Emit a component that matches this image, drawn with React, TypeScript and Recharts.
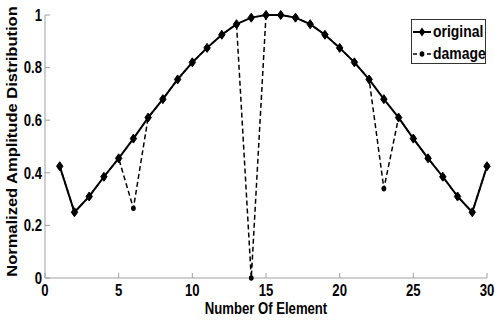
import React from 'react';
import { LineChart, Line, XAxis, YAxis, Legend, Label } from 'recharts';

const elements = [1, 2, 3, 4, 5, 6, 7, 8, 9, 10, 11, 12, 13, 14, 15, 16, 17, 18, 19, 20, 21, 22, 23, 24, 25, 26, 27, 28, 29, 30];
const originalValues = [0.425, 0.25, 0.31, 0.385, 0.455, 0.53, 0.61, 0.68, 0.755, 0.82, 0.875, 0.925, 0.965, 0.99, 1.0, 1.0, 0.99, 0.965, 0.925, 0.875, 0.82, 0.755, 0.68, 0.61, 0.53, 0.455, 0.385, 0.31, 0.25, 0.425];
const damageValues = [0.425, 0.25, 0.31, 0.385, 0.455, 0.265, 0.61, 0.68, 0.755, 0.82, 0.875, 0.925, 0.965, 0, 1.0, 1.0, 0.99, 0.965, 0.925, 0.875, 0.82, 0.755, 0.34, 0.61, 0.53, 0.455, 0.385, 0.31, 0.25, 0.425];
const xTicks = [0, 5, 10, 15, 20, 25, 30];
const yTicks = [0, 0.2, 0.4, 0.6, 0.8, 1];
const seriesNames = ['original', 'damage'];
const xLabel = 'Number Of Element';
const yLabel = 'Normalized Amplitude Distribution';

const data = elements.map((e, i) => ({ element: e, original: originalValues[i], damage: damageValues[i] }));

const FONT = '"Liberation Sans", Arial, sans-serif';
const SQUEEZE = 0.82;
const AXIS_GRAY = '#a0a0a0';
const TICK_LEN = 5;

const SqText = (props: any) => {
  const { x, y, children, anchor, dy, size } = props;
  return (
    <text
      transform={`translate(${x},${y}) scale(${SQUEEZE},1)`}
      x={0}
      y={0}
      dy={dy}
      textAnchor={anchor}
      fontFamily={FONT}
      fontWeight="bold"
      fontSize={size}
      fill="#000"
    >
      {children}
    </text>
  );
};

const BottomTick = (props: any) => {
  const { x, y, payload } = props;
  const axisY = y - 6;
  return (
    <g>
      <line x1={x} y1={axisY} x2={x} y2={axisY - TICK_LEN} stroke={AXIS_GRAY} strokeWidth={1} />
      <SqText x={x} y={y} dy="0.78em" anchor="middle" size={16}>
        {payload.value}
      </SqText>
    </g>
  );
};

const LeftTick = (props: any) => {
  const { x, y, payload } = props;
  const axisX = x + 3;
  return (
    <g>
      <line x1={axisX} y1={y} x2={axisX + TICK_LEN} y2={y} stroke={AXIS_GRAY} strokeWidth={1} />
      <SqText x={x} y={y} dy="0.36em" anchor="end" size={16}>
        {payload.value}
      </SqText>
    </g>
  );
};

const TopTick = (props: any) => {
  const { x, y } = props;
  return <line x1={x} y1={y} x2={x} y2={y + TICK_LEN} stroke={AXIS_GRAY} strokeWidth={1} />;
};

const RightTick = (props: any) => {
  const { x, y } = props;
  return <line x1={x} y1={y} x2={x - TICK_LEN} y2={y} stroke={AXIS_GRAY} strokeWidth={1} />;
};

const Diamond = (props: any) => {
  const { cx, cy, index } = props;
  if (cx == null || cy == null) return <g key={`d-${index}`} />;
  return (
    <path
      key={`d-${index}`}
      d={`M${cx},${cy - 4.5} L${cx + 3.2},${cy} L${cx},${cy + 4.5} L${cx - 3.2},${cy} Z`}
      fill="#000"
      stroke="#000"
      strokeWidth={1}
    />
  );
};

const SmallDot = (props: any) => {
  const { cx, cy, index } = props;
  if (cx == null || cy == null) return <g key={`s-${index}`} />;
  return <ellipse key={`s-${index}`} cx={cx} cy={cy} rx={2.4} ry={2.8} fill="#000" />;
};

const LegendBox = () => (
  <div
    style={{
      width: 75,
      height: 45,
      border: '1px solid #333',
      background: '#fff',
      boxSizing: 'border-box',
      position: 'relative',
    }}
  >
    {seriesNames.map((name, i) => (
      <div key={name} style={{ position: 'absolute', left: 0, top: 2 + i * 22, height: 20, width: 73, display: 'flex', alignItems: 'center' }}>
        <svg width={21} height={20} style={{ flex: 'none' }}>
          {i === 0 ? (
            <>
              <line x1={1} y1={10} x2={19} y2={10} stroke="#000" strokeWidth={2} />
              <path d="M10,5.5 L13.2,10 L10,14.5 L6.8,10 Z" fill="#000" />
            </>
          ) : (
            <>
              <line x1={1} y1={10} x2={19} y2={10} stroke="#000" strokeWidth={1.5} strokeDasharray="4 3" />
              <ellipse cx={10} cy={10} rx={2.4} ry={2.8} fill="#000" />
            </>
          )}
        </svg>
        <span
          style={{
            fontFamily: FONT,
            fontWeight: 'bold',
            fontSize: 17,
            lineHeight: '20px',
            color: '#000',
            display: 'inline-block',
            transform: `scaleX(${SQUEEZE})`,
            transformOrigin: 'left center',
            whiteSpace: 'nowrap',
          }}
        >
          {name}
        </span>
      </div>
    ))}
  </div>
);

export default function App() {
  return (
    <div style={{ position: 'absolute', left: 0, top: 0, width: 495, height: 320, background: '#fff' }}>
      <LineChart width={495} height={320} data={data} margin={{ top: 15, right: 8, bottom: 0, left: 0 }}>
        <XAxis
          xAxisId="bottom"
          dataKey="element"
          type="number"
          domain={[0, 30]}
          ticks={xTicks}
          height={42}
          stroke={AXIS_GRAY}
          tickLine={false}
          tickSize={0}
          tickMargin={6}
          tick={<BottomTick />}
          interval={0}
        >
          <Label
            content={(p: any) => {
              const vb = p.viewBox;
              const cx = vb.x + vb.width / 2;
              return (
                <SqText x={cx} y={314} anchor="middle" size={16}>
                  {xLabel}
                </SqText>
              );
            }}
          />
        </XAxis>
        <XAxis
          xAxisId="top"
          orientation="top"
          dataKey="element"
          type="number"
          domain={[0, 30]}
          ticks={xTicks}
          height={0}
          stroke={AXIS_GRAY}
          tickLine={false}
          tickSize={0}
          tickMargin={0}
          tick={<TopTick />}
          interval={0}
        />
        <YAxis
          yAxisId="left"
          type="number"
          domain={[0, 1]}
          ticks={yTicks}
          width={45}
          stroke={AXIS_GRAY}
          tickLine={false}
          tickSize={0}
          tickMargin={3}
          tick={<LeftTick />}
          interval={0}
        >
          <Label
            content={(p: any) => {
              const vb = p.viewBox;
              const cx = 12;
              const cy = vb.y + vb.height / 2 - 5;
              return (
                <text
                  transform={`translate(${cx},${cy}) scale(0.85,1) rotate(-90)`}
                  x={0}
                  y={0}
                  textAnchor="middle"
                  dominantBaseline="central"
                  fontFamily={FONT}
                  fontWeight="bold"
                  fontSize={16.5}
                  fill="#000"
                >
                  {yLabel}
                </text>
              );
            }}
          />
        </YAxis>
        <YAxis
          yAxisId="right"
          orientation="right"
          type="number"
          domain={[0, 1]}
          ticks={yTicks}
          width={0}
          stroke={AXIS_GRAY}
          tickLine={false}
          tickSize={0}
          tickMargin={0}
          tick={<RightTick />}
          interval={0}
        />
        <Legend
          layout="horizontal"
          verticalAlign="middle"
          align="center"
          wrapperStyle={{ top: 19, left: 411, width: 75, height: 45 }}
          content={() => <LegendBox />}
        />
        <Line
          xAxisId="bottom"
          yAxisId="left"
          dataKey="original"
          name={seriesNames[0]}
          stroke="#000"
          strokeWidth={2}
          dot={<Diamond />}
          activeDot={false}
          isAnimationActive={false}
        />
        <Line
          xAxisId="bottom"
          yAxisId="left"
          dataKey="damage"
          name={seriesNames[1]}
          stroke="#000"
          strokeWidth={1.5}
          strokeDasharray="5 3"
          dot={<SmallDot />}
          activeDot={false}
          isAnimationActive={false}
        />
      </LineChart>
    </div>
  );
}
